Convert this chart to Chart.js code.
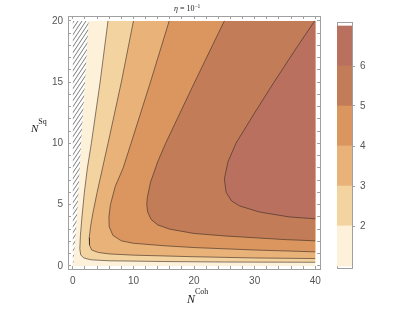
<!DOCTYPE html>
<html lang="en">
<head>
  <meta charset="UTF-8">
  <title>Contour plot, eta = 10^-1</title>
  <script src="https://cdn.jsdelivr.net/npm/chart.js@4.4.0/dist/chart.umd.min.js"></script>
  <style>
    body { margin: 0; background: #fff; }
    #wrap { position: relative; width: 412px; height: 309px; overflow: hidden; }
    canvas { position: absolute; top: 0; }
    .lbl { position: absolute; font-family: 'Liberation Serif', serif; color: #222; white-space: nowrap; line-height: 1; }
    .lbl sup { font-style: normal; }
  </style>
</head>
<body>
  <div id="wrap">
    <canvas id="plot" width="330" height="309" style="left:0"></canvas>
    <canvas id="bar" width="82" height="309" style="left:330px"></canvas>
    <div class="lbl" style="left:174px; top:3.5px; font-size:8px;"><i>η</i> = 10<sup style="font-size:5.5px; vertical-align:3px;">−1</sup></div>
    <div class="lbl" style="left:187px; top:288px; font-size:12px;"><i>N</i><sup style="font-size:8px; vertical-align:9px;">Coh</sup></div>
    <div class="lbl" style="left:31px; top:118px; font-size:11px;"><i>N</i><sup style="font-size:8px; vertical-align:8px;">Sq</sup></div>
  </div>

  <script>
    // contour levels and fill colours (lowest band first)
    const levels = [1, 2, 3, 4, 5, 6, 7];
    const bandColors = ['#fdf1da', '#f3d4a1', '#e8b279', '#db965f', '#c27d58', '#b9705f'];
    const colorbarTicks = [2, 3, 4, 5, 6];

    // plotted domain and labelled ticks
    const xDomain = [0, 40];
    const yDomain = [0, 20];
    const xTicksMajor = [0, 10, 20, 30, 40];
    const yTicksMajor = [0, 5, 10, 15, 20];

    // edge of the excluded (hatched) region, [N_Coh, N_Sq], top to bottom
    const hatchEdge = [[2.6, 20], [2.0, 15], [1.35, 10], [0.8, 5], [0.45, 2.5], [0.2, 1], [0.1, 0.2]];

    // contour lines, each from the top edge to the right edge
    const contour2 = [[5.8, 20], [4.5, 15], [3.05, 10], [2.4, 8], [1.9, 6], [1.5, 4], [1.25, 2.5], [1.15, 1.4],
                      [1.3, 0.9], [1.8, 0.65], [3, 0.5], [6, 0.42], [15, 0.36], [25, 0.32], [40, 0.3]];
    const contour3 = [[10.0, 20], [8.0, 15], [5.8, 10], [4.9, 8], [4.0, 6], [3.3, 4.3], [2.95, 3.3], [2.7, 2.3],
                      [2.75, 1.7], [3.1, 1.3], [4.2, 1.1], [6, 0.98], [10, 0.88], [20, 0.75], [30, 0.65], [40, 0.6]];
    const contour4 = [[15.9, 20], [12.8, 15], [9.6, 10], [8.3, 8], [7.0, 6.5], [6.2, 5], [5.95, 4], [6.0, 3.2],
                      [6.6, 2.5], [8, 2.05], [10, 1.85], [15, 1.65], [20, 1.5], [30, 1.3], [40, 1.15]];
    const contour5 = [[25.0, 20], [20.1, 15], [15.3, 10], [14.0, 8.5], [12.8, 6.8], [12.3, 5.6], [12.2, 5.0], [12.35, 4.4],
                      [12.9, 3.8], [14, 3.35], [16, 3.0], [20, 2.65], [25, 2.45], [30, 2.3], [35, 2.15], [40, 2.05]];
    const contour6 = [[39.9, 20], [36.5, 17.5], [33.2, 15], [30, 12.5], [26.9, 10], [25.6, 8.5], [25.0, 7.1], [25.3, 6.0],
                      [26.2, 5.3], [27.5, 4.9], [30.8, 4.4], [35.7, 4.0], [40, 3.85]];

    const frameColor = '#a0a0a0';
    const tickText = '#555';
    const lineColor = 'rgba(55,40,35,0.75)';

    Chart.defaults.font.family = "'Liberation Sans', Arial, sans-serif";
    Chart.defaults.font.size = 10;

    const toPts = arr => arr.map(([x, y]) => ({ x, y }));

    function hatchPattern() {
      const c = document.createElement('canvas');
      c.width = 4; c.height = 6;
      const g = c.getContext('2d');
      g.fillStyle = '#fff';
      g.fillRect(0, 0, 4, 6);
      g.strokeStyle = '#6e6e6e';
      g.lineWidth = 0.9;
      g.beginPath();
      [-4, 0, 4].forEach(dx => { g.moveTo(dx, 6); g.lineTo(dx + 4, 0); });
      g.stroke();
      return g.createPattern(c, 'repeat');
    }

    const contours = [contour2, contour3, contour4, contour5, contour6];
    const topRight = [xDomain[1], yDomain[1]];

    // region above each level: contour closed through the top-right corner
    const levelFills = contours.map((c, i) => ({
      data: toPts(c.concat([topRight])),
      backgroundColor: bandColors[i + 1],
      borderWidth: 0, fill: 'shape'
    })).reverse();

    const baseFill = {
      data: toPts([[xDomain[0], yDomain[0]], [xDomain[1], yDomain[0]], [xDomain[1], yDomain[1]], [xDomain[0], yDomain[1]]]),
      backgroundColor: bandColors[0], borderWidth: 0, fill: 'shape'
    };
    const hatchFill = {
      data: toPts([[xDomain[0], yDomain[1]]].concat(hatchEdge, [[xDomain[0], hatchEdge[hatchEdge.length - 1][1]]])),
      backgroundColor: hatchPattern(), borderWidth: 0, fill: 'shape'
    };
    const contourLines = contours.map(c => ({
      data: toPts(c), borderColor: lineColor, borderWidth: 0.8, fill: false
    }));

    // dataset 0 is painted last (on top)
    const datasets = contourLines.concat(levelFills, [hatchFill, baseFill]);

    // frame side with inward ticks
    const frameAxis = (pos, min, max, step, size, labels, pad) => ({
      type: 'linear', position: pos, min, max,
      afterFit: s => { if (pos === 'top' || pos === 'bottom') s.height = size; else s.width = size; },
      border: { color: frameColor, width: 1, z: 1 },
      grid: { drawOnChartArea: false, drawTicks: true, tickLength: -3, color: frameColor, z: 1 },
      ticks: {
        stepSize: step, includeBounds: false, autoSkip: false, maxRotation: 0,
        padding: pad, color: tickText,
        callback: v => (labels && labels.includes(v)) ? v : ''
      }
    });

    new Chart(document.getElementById('plot'), {
      type: 'line',
      data: { datasets },
      options: {
        responsive: false, animation: false, devicePixelRatio: 1,
        layout: { padding: { left: 0, top: 16, right: 7, bottom: 0 } },
        plugins: { legend: { display: false }, tooltip: { enabled: false } },
        elements: { point: { radius: 0 }, line: { tension: 0 } },
        scales: {
          x: frameAxis('bottom', -0.8, 40.8, 2, 40, xTicksMajor, 9),
          y: frameAxis('left', -0.25, 20.4, 1, 68, yTicksMajor, 8),
          x2: frameAxis('top', -0.8, 40.8, 2, 0, null, 0),
          y2: frameAxis('right', -0.25, 20.4, 1, 0, null, 0)
        }
      }
    });

    // colour bar
    new Chart(document.getElementById('bar'), {
      type: 'bar',
      data: {
        labels: [''],
        datasets: bandColors.map((c, i) => ({
          data: [[levels[i], levels[i + 1]]],
          backgroundColor: c, borderWidth: 0, barPercentage: 1, categoryPercentage: 1
        }))
      },
      options: {
        responsive: false, animation: false, devicePixelRatio: 1,
        layout: { padding: { left: 7, top: 22, right: 0, bottom: 0 } },
        plugins: { legend: { display: false }, tooltip: { enabled: false } },
        scales: {
          x: { stacked: true, position: 'bottom', afterFit: s => { s.height = 41; },
               grid: { display: false }, ticks: { display: false }, border: { color: frameColor } },
          xt: { type: 'category', position: 'top', afterFit: s => { s.height = 0; },
                grid: { display: false }, ticks: { display: false }, border: { color: frameColor } },
          y: { position: 'right', min: 0.95, max: 7.1, afterFit: s => { s.width = 60; },
               border: { color: frameColor },
               grid: { drawOnChartArea: false, tickLength: 3,
                       color: ctx => (ctx.tick && colorbarTicks.includes(ctx.tick.value)) ? frameColor : 'rgba(0,0,0,0)' },
               ticks: { stepSize: 1, includeBounds: false, padding: 5, color: tickText,
                        callback: v => colorbarTicks.includes(v) ? v : '' } },
          yl: { position: 'left', min: 0.95, max: 7.1, afterFit: s => { s.width = 0; },
                grid: { display: false }, ticks: { display: false }, border: { color: frameColor } }
        }
      }
    });
  </script>
</body>
</html>
